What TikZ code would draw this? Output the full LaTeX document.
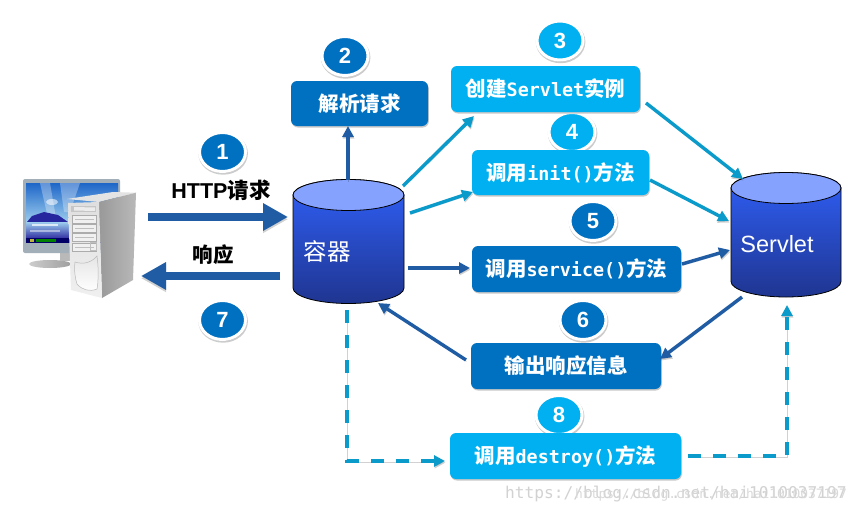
\documentclass[tikz,border=0pt]{standalone}
\usepackage{fontspec}
\setmainfont{Liberation Sans}
\newfontfamily\cjkf{Noto Sans CJK SC}
\newfontfamily\monof{DejaVu Sans Mono}
\usetikzlibrary{arrows.meta,shapes.geometric,calc}
\definecolor{dkblue}{HTML}{0070C0}
\definecolor{ltblue}{HTML}{00B0F0}
\definecolor{arrdk}{HTML}{1F5CA4}
\definecolor{arrlt}{HTML}{0B9BCB}
\definecolor{cyltop}{HTML}{85A2FF}
\definecolor{cylhi}{HTML}{3060F8}
\definecolor{cyllo}{HTML}{1F3590}
\definecolor{framec}{HTML}{A3AFB8}
\definecolor{skytop}{HTML}{1E66C8}
\definecolor{skylow}{HTML}{9CCDEE}
\newcommand{\zh}[1]{{\cjkf\fontsize{20.5}{22}\selectfont\bfseries #1}}
\newcommand{\mn}[1]{{\monof\fontsize{18.4}{22}\selectfont\bfseries #1}}
\newcommand{\low}[1]{\raisebox{-1.6pt}{#1}}
\newcommand{\drum}[4]{% cx, half width, top centre y, bottom side y
  \shade[top color=cylhi,bottom color=cyllo,draw=black,line width=0.8pt]
    (#1-#2,#3) -- (#1-#2,#4) arc[start angle=180,end angle=360,x radius=#2pt,y radius=15.5pt]
    -- (#1+#2,#3) arc[start angle=0,end angle=180,x radius=#2pt,y radius=15.5pt] -- cycle;
  \draw[fill=cyltop,line width=0.8pt] (#1,#3) ellipse[x radius=#2pt,y radius=15.5pt];
}
\tikzset{
  boxdk/.style={rounded corners=6pt,fill=dkblue,text=white,inner sep=0pt,
     preaction={fill=black,opacity=.22,transform canvas={xshift=.8pt,yshift=-1.5pt}}},
  boxlt/.style={boxdk,fill=ltblue},
  badge/.style={ellipse,draw=white,line width=3pt,inner sep=0pt,minimum width=46pt,minimum height=39pt,
     text=white,font=\fontsize{22}{24}\selectfont\bfseries,
     preaction={draw=black,fill=black,line width=3.6pt,opacity=.2,transform canvas={xshift=.6pt,yshift=-1.4pt}}},
  badgedk/.style={badge,fill=dkblue},
  badgelt/.style={badge,fill=ltblue},
  flowbase/.style={line width=3.4pt,-{Triangle[length=11pt,width=11pt]},
     preaction={draw=black,opacity=.18,transform canvas={xshift=.6pt,yshift=-1.6pt}}},
  flowdk/.style={flowbase,draw=arrdk,color=arrdk},
  flowlt/.style={flowbase,draw=arrlt,color=arrlt},
  flowdash/.style={flowlt,dash pattern=on 13pt off 12pt},
  bigflow/.style={line width=8pt,draw=arrdk,color=arrdk,-{Triangle[length=25pt,width=26pt]},
     preaction={draw=black,opacity=.18,transform canvas={yshift=-2.2pt}}},
  anchorbox/.style={inner sep=0pt,outer sep=0pt},
  lbl/.style={inner sep=0pt,text=black}
}
\begin{document}
\begin{tikzpicture}[x=1pt,y=-1pt]
\useasboundingbox (0,0) rectangle (856,514);
\fill[white] (0,0) rectangle (856,514);

% ---------- computer ----------
\shade[left color=gray!40,right color=gray!75] (50,264) ellipse[x radius=21pt,y radius=4pt];
\fill[gray!55] (60,250) rectangle (72,261);
\fill[rounded corners=2pt,fill=framec] (23,179) rectangle (120,253);
\shade[top color=skytop,bottom color=skylow] (26,183) rectangle (118,222);
\fill[white,opacity=.3] (40,183) -- (50,183) -- (56,218) -- (48,218) -- cycle;
\fill[white,opacity=.3] (60,183) -- (80,183) -- (70,212) -- (64,212) -- cycle;
\fill[white,opacity=.55] (52,202) ellipse[x radius=6pt,y radius=3pt];
\fill[blue!55!black!85] (27,222) -- (32,216) -- (44,212) -- (58,215) -- (68,222) -- cycle;
\shade[top color=skylow,bottom color=blue!55!black!80] (26,222) rectangle (118,238);
\fill[white,opacity=.7] (32,224) rectangle (58,226);
\fill[white,opacity=.45] (30,230) rectangle (60,231.5);
\fill[black!60!blue] (26,238) rectangle (118,243);
\fill[yellow!70!black] (30,239) rectangle (34,242);
\fill[green!50!black] (36,239) rectangle (56,242);
% tower
\fill[gray!22] (67,199) -- (113,192) -- (136,192.7) -- (99,202) -- cycle;
\shade[left color=gray!80,right color=gray!55] (99,202) -- (136,192.7) -- (133,280) -- (102,298) -- cycle;
\shade[top color=gray!25,bottom color=gray!12] (68,203) -- (99,202) -- (102,298) -- (71,290) -- cycle;
\fill[gray!45] (71,206) -- (96,206) -- (96,212) -- (71,212) -- cycle;
\fill[gray!15] (74,207) -- (95,207.5) -- (95,211) -- (74,210.5) -- cycle;
\foreach \yy in {215,224,233,243}{
  \draw[gray!65,line width=.5pt,fill=gray!12] (72,\yy) rectangle (96,\yy+8);
  \draw[gray!50,line width=.4pt] (75,\yy+4) -- (94,\yy+4);
}
\draw[gray!50,line width=.5pt] (90,242) rectangle (96,250);
\shade[top color=gray!20,bottom color=white,draw=gray!55,line width=.5pt] (75,262) .. controls (84,265) and (92,262) .. (97,256) .. controls (99,270) and (98,285) .. (97,289) .. controls (90,292) and (82,290) .. (77,284) .. controls (75,278) and (74,270) .. (75,262) -- cycle;
\node[anchorbox,minimum width=116pt,minimum height=120pt] (c0) at (80,238) {};

% ---------- cylinders ----------
\drum{348.5}{55.5}{195}{288}
\node[anchorbox,minimum width=111pt,minimum height=125pt] (c1) at (348.5,241.5) {};
\node[inner sep=0pt,text=white] (c1t) at (327,251) {\cjkf\fontsize{23.5}{26}\selectfont 容器};
\drum{786}{55}{188}{281.5}
\node[anchorbox,minimum width=110pt,minimum height=124pt] (c2) at (786,235) {};
\node[inner sep=0pt,text=white] (c2t) at (777,244) {\fontsize{23.5}{26}\selectfont Servlet};

% ---------- badges ----------
\node[badgedk] (n1) at (222.5,152) {1};
\node[badgedk] (n7) at (222.5,320) {7};
\node[badgedk] (n2) at (345,56) {2};
\node[badgelt] (n3) at (560,40.5) {3};
\node[badgelt] (n4) at (572,132) {4};
\node[badgedk] (n5) at (593,221) {5};
\node[badgedk] (n6) at (583,320) {6};
\node[badgelt] (n8) at (559,415) {8};

% ---------- boxes ----------
\node[boxdk,minimum width=137pt,minimum height=45pt] (b2) at (359.5,103.5) {\zh{解析请求}};
\node[boxlt,minimum width=189pt,minimum height=46pt] (b3) at (545.5,89) {\low{\zh{创建}\mn{Servlet}\zh{实例}}};
\node[boxlt,minimum width=177pt,minimum height=45pt] (b4) at (560.5,172.5) {\zh{调用}\mn{init()}\zh{方法}};
\node[boxdk,minimum width=209pt,minimum height=46pt] (b5) at (576.5,269) {\low{\zh{调用}\mn{service()}\zh{方法}}};
\node[boxdk,minimum width=190pt,minimum height=46pt] (b6) at (566,366) {\raisebox{-.8pt}{\zh{输出响应信息}}};
\node[boxlt,minimum width=231pt,minimum height=46pt] (b8) at (565.5,456) {\low{\zh{调用}\mn{destroy()}\zh{方法}}};

% ---------- labels ----------
\node[lbl] (lreq) at (221,190) {\fontsize{21.5}{24}\selectfont\bfseries HTTP{\cjkf 请求}};
\node[lbl] (lres) at (213,255) {\zh{响应}};

% ---------- connectors ----------
\draw[bigflow] ([shift={(68,-21)}]c0.center) -- ([shift={(-60.5,-24.5)}]c1.center);
\draw[bigflow] ([shift={(-68.5,34.5)}]c1.center) -- ([shift={(61,38)}]c0.center);
\draw[flowdk] ([shift={(-.5,-61.5)}]c1.center) -- ([shift={(-11.5,22.5)}]b2.center);
\draw[flowlt] ([shift={(54.5,-55.5)}]c1.center) -- ([shift={(-71.5,27)}]b3.center);
\draw[flowlt] ([shift={(61.5,-28.5)}]c1.center) -- ([shift={(-87.5,19.5)}]b4.center);
\draw[flowlt] ([shift={(100.5,14)}]b3.center) -- ([shift={(-43,-56)}]c2.center);
\draw[flowlt] ([shift={(89.5,7.5)}]b4.center) -- ([shift={(-57,-14)}]c2.center);
\draw[flowdk] ([shift={(59.5,26.5)}]c1.center) -- ([shift={(-106.5,-1)}]b5.center);
\draw[flowdk] ([shift={(105.5,-5)}]b5.center) -- ([shift={(-56,15)}]c2.center);
\draw[flowdk] ([shift={(-44,62)}]c2.center) -- ([shift={(94,-7)}]b6.center);
\draw[flowdk] ([shift={(-100,-6)}]b6.center) -- ([shift={(29.5,61.5)}]c1.center);
\draw[flowdash] ([shift={(-1.5,68.5)}]c1.center) |- ([shift={(-120.5,5)}]b8.center);
\draw[flowdash] ([shift={(122.5,0)}]b8.center) -| ([shift={(1,70)}]c2.center);

% ---------- watermark ----------
\node[inner sep=0pt,anchor=west,text=gray!35] (wm1) at (505,494) {\monof\fontsize{16.2}{18}\selectfont https://blog.csdn.net/hai1010037197};
\node[inner sep=0pt,anchor=west,text=gray!30] (wm2) at (575,495) {\monof\fontsize{12.9}{18}\selectfont https://blog.csdn.net/hai1010037197};
\end{tikzpicture}
\end{document}
